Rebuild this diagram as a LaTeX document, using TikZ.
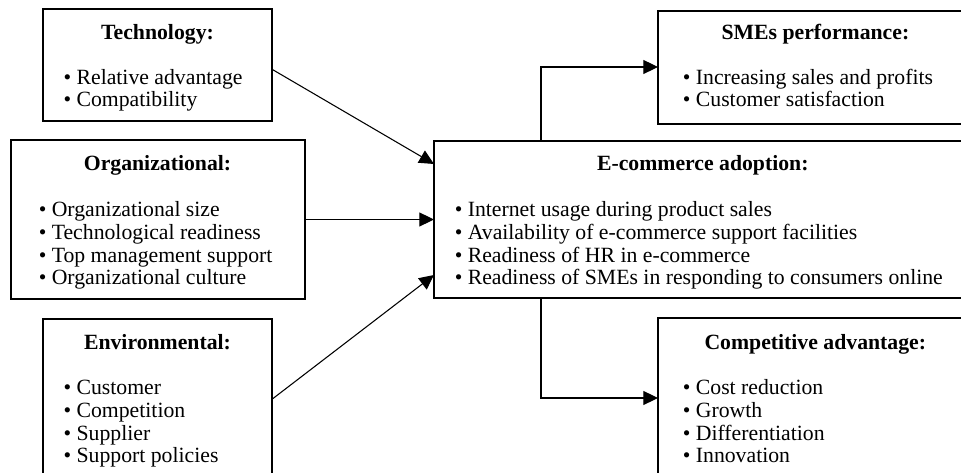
\documentclass[tikz,border=0pt]{standalone}
\usepackage{fontspec}
\setmainfont{Liberation Serif}
\usetikzlibrary{arrows.meta,calc}
\begin{document}
\begin{tikzpicture}[x=0.75pt,y=-0.75pt,
  boxnode/.style={draw=black,line width=0.8pt,rectangle,anchor=north west,inner sep=0pt,outer sep=0pt},
  titletext/.style={anchor=base,inner sep=0pt,font=\fontsize{16.3}{17}\selectfont\bfseries},
  listtext/.style={anchor=base west,inner sep=0pt,font=\fontsize{16.3}{17}\selectfont},
  conn/.style={line width=0.8pt,-{Triangle[length=11pt,width=10.5pt]}}]
\useasboundingbox (0,0) rectangle (961,473);
\clip (0,0) rectangle (961,473);
% boxes
\node[boxnode,minimum width=171.75pt,minimum height=84pt] (tech) at (43,9) {};
\node[boxnode,minimum width=220.5pt,minimum height=119.25pt] (org) at (11,140) {};
\node[boxnode,minimum width=171.75pt,minimum height=135pt] (env) at (43,319) {};
\node[boxnode,minimum width=236.25pt,minimum height=84.75pt] (smes) at (658,11) {};
\node[boxnode,minimum width=405pt,minimum height=117.75pt] (ecom) at (434,141) {};
\node[boxnode,minimum width=236.25pt,minimum height=135pt] (comp) at (658,318) {};
% titles
\node[titletext] (techT) at (157.5,39.2) {Technology:};
\node[titletext] (orgT) at (157.5,170.8) {Organizational:};
\node[titletext] (envT) at (157.5,349.2) {Environmental:};
\node[titletext] (smesT) at (815.4,39.2) {SMEs performance:};
\node[titletext] (ecomT) at (702.8,170.8) {E-commerce adoption:};
\node[titletext] (compT) at (815.3,349.2) {Competitive advantage:};
% lists
\node[listtext] (techL) at (63.3,84.2) {\begin{tabular}[t]{@{}l@{}}• Relative advantage\\• Compatibility\end{tabular}};
\node[listtext] (orgL) at (38.5,216.8) {\begin{tabular}[t]{@{}l@{}}• Organizational size\\• Technological readiness\\• Top management support\\• Organizational culture\end{tabular}};
\node[listtext] (envL) at (63.3,394.8) {\begin{tabular}[t]{@{}l@{}}• Customer\\• Competition\\• Supplier\\• Support policies\end{tabular}};
\node[listtext] (smesL) at (682.6,84.2) {\begin{tabular}[t]{@{}l@{}}• Increasing sales and profits\\• Customer satisfaction\end{tabular}};
\node[listtext] (ecomL) at (454.5,216.8) {\begin{tabular}[t]{@{}l@{}}• Internet usage during product sales\\• Availability of e-commerce support facilities\\• Readiness of HR in e-commerce\\• Readiness of SMEs in responding to consumers online\end{tabular}};
\node[listtext] (compL) at (682.6,394.8) {\begin{tabular}[t]{@{}l@{}}• Cost reduction\\• Growth\\• Differentiation\\• Innovation\end{tabular}};
% connectors
\draw[conn] ([yshift=-45.2pt]tech.north east) -- ([yshift=-17.25pt]ecom.north west);
\draw[conn] (org.east) -- (org.east -| ecom.west);
\draw[conn] ([yshift=-60.2pt]env.north east) -- ([yshift=17.25pt]ecom.south west);
\draw[conn] ([xshift=80.25pt]ecom.north west) |- ([yshift=-42pt]smes.north west);
\draw[conn] ([xshift=80.25pt]ecom.south west) |- ([yshift=-60pt]comp.north west);
\end{tikzpicture}
\end{document}
